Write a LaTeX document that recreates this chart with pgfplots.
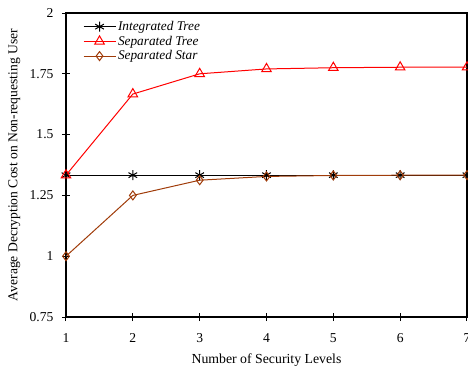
\documentclass[border=0pt]{standalone}
\usepackage{fontspec}
\setmainfont{Liberation Serif}
\usepackage{pgfplots}
\pgfplotsset{compat=1.18}
\definecolor{sbrown}{RGB}{160,60,10}
\newcommand\tlfont{\fontsize{13.6}{14}\selectfont}
\begin{document}
\begin{tikzpicture}
\begin{axis}[
  at={(0pt,0pt)}, anchor=south west,
  scale only axis,
  width=401pt, height=304pt,
  xmin=1, xmax=7, ymin=0.75, ymax=2,
  xtick={1,...,7},
  xticklabels={\tlfont 1,\tlfont 2,\tlfont 3,\tlfont 4,\tlfont 5,\tlfont 6,\tlfont 7},
  ytick={0.75,1,1.25,1.5,1.75,2},
  yticklabels={\tlfont 0.75,\tlfont 1,\tlfont 1.25,\tlfont 1.5,\tlfont 1.75,\tlfont 2},
  tick align=center,
  xtick pos=bottom, ytick pos=left,
  major tick length=8pt,
  axis line style={line width=1.3pt},
  every tick/.style={black, line width=1pt},
  /pgf/number format/assume math mode=true,
  xticklabel style={font=\tlfont, yshift=-9pt},
  yticklabel style={font=\tlfont, xshift=-5pt},
  xlabel={Number of Security Levels},
  ylabel={Average Decryption Cost on Non-requesting User},
  xlabel style={font=\fontsize{13.8}{14}\selectfont, at={(axis description cs:0.5,-0.1414)}, anchor=center},
  ylabel style={font=\fontsize{13.6}{14}\selectfont, at={(axis description cs:-0.129,0.5)}, anchor=center},
  legend style={draw=none, fill=none, inner sep=0pt, at={(axis description cs:0.042,0.98)}, anchor=north west,
    font=\itshape\fontsize{13.3}{14}\selectfont, row sep=0pt},
  legend cell align=left,
  legend image code/.code={\draw[#1] (0pt,0pt) -- (32pt,0pt); \draw[#1, only marks] plot coordinates {(16pt,0pt)};},
]
\addplot[black, line width=1pt, mark=asterisk, mark size=5pt, mark options={line width=1pt}] coordinates {
(1,1.3333) (2,1.3333) (3,1.3333) (4,1.3333) (5,1.3333) (6,1.3333) (7,1.3333)};
\addlegendentry{Integrated Tree}
\addplot[red, line width=1pt, mark=triangle, mark size=5.5pt, mark options={line width=1pt}] coordinates {
(1,1.3333) (2,1.6667) (3,1.75) (4,1.77) (5,1.775) (6,1.777) (7,1.777)};
\addlegendentry{Separated Tree}
\addplot[sbrown, line width=1pt, mark=diamond, mark size=4.5pt, mark options={line width=1pt}] coordinates {
(1,1.0) (2,1.25) (3,1.3125) (4,1.328) (5,1.332) (6,1.333) (7,1.3333)};
\addlegendentry{Separated Star}
\end{axis}
\pgfresetboundingbox
\useasboundingbox (-66pt,-51pt) rectangle (402pt,317pt);
\end{tikzpicture}
\end{document}
